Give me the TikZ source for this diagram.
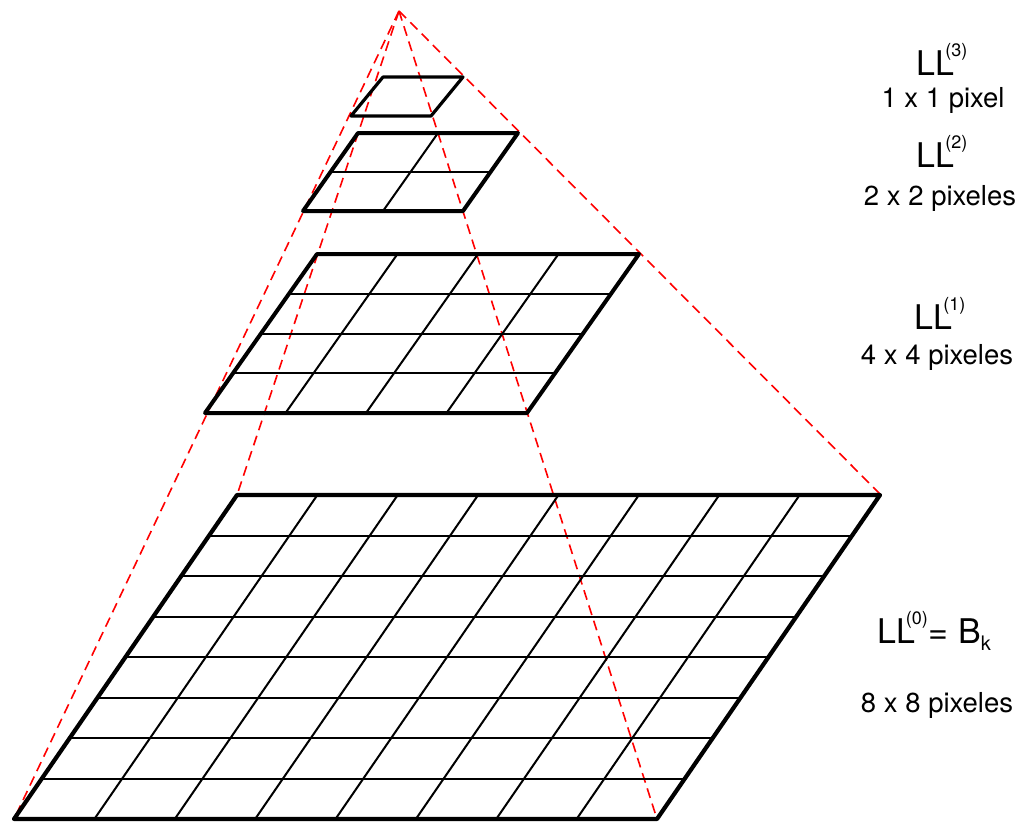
\documentclass[tikz,border=0pt]{standalone}
\usepackage{fontspec}
\setmainfont{TeX Gyre Heros}
\usetikzlibrary{calc}
\tikzset{
  gridborder/.style={line width=4pt, line join=round, line cap=round},
  gridinner/.style={line width=2pt},
  reddash/.style={red, line width=1.6pt, dash pattern=on 10pt off 6pt},
  lblbig/.style={inner sep=0pt, anchor=base, font=\fontsize{34}{40}\selectfont},
  lblsmall/.style={inner sep=0pt, anchor=base, font=\fontsize{27.5}{32}\selectfont},
}
\newcommand\LLs[1]{LL\kern-9pt\raisebox{19pt}{\fontsize{18}{18}\selectfont(#1)}}
% #1 name, #2 blx, #3 bly, #4 width, #5 tlx, #6 tly, #7 n, #8 border width
\newcommand\drawgrid[8]{%
  \coordinate (#1-bl) at (#2,#3);
  \coordinate (#1-br) at ({#2+#4},#3);
  \coordinate (#1-tl) at (#5,#6);
  \coordinate (#1-tr) at ({#5+#4},#6);
  \ifnum#7>1
    \pgfmathtruncatemacro\lastidx{#7-1}
    \foreach \i in {1,...,\lastidx}{
      \draw[gridinner] ($(#1-bl)!{\i/#7}!(#1-tl)$) -- ($(#1-br)!{\i/#7}!(#1-tr)$);
      \draw[gridinner] ($(#1-bl)!{\i/#7}!(#1-br)$) -- ($(#1-tl)!{\i/#7}!(#1-tr)$);
    }
  \fi
  \draw[gridborder, line width=#8] (#1-bl) -- (#1-br) -- (#1-tr) -- (#1-tl) -- cycle;
}
\begin{document}
\begin{tikzpicture}[x=1pt, y=-1pt]
  \useasboundingbox (0,0) rectangle (1023,823);
  \coordinate (apex) at (399,11);
  \coordinate (c-bl) at (14,819);
  \coordinate (c-br) at (657,819);
  \coordinate (c-tl) at (237,495);
  \coordinate (c-tr) at (881,495);
  % pyramid edges
  \draw[reddash] (apex) -- (c-bl);
  \draw[reddash] (apex) -- (c-tl);
  \draw[reddash] (apex) -- (c-br);
  \draw[reddash] (apex) -- (c-tr);
  % grids
  \drawgrid{g0}{14}{819}{643}{237}{495}{8}{4.2pt}
  \drawgrid{g1}{205}{413}{322}{317}{254}{4}{4pt}
  \drawgrid{g2}{303}{211}{160}{358}{133}{2}{4pt}
  \drawgrid{g3}{351}{116}{80}{383}{77}{1}{3.2pt}
  % labels
  \node[lblbig] (t3) at (942,75) {\LLs{3}};
  \node[lblsmall] (s3) at (943,107) {1 x 1 pixel};
  \node[lblbig] (t2) at (942,167) {\LLs{2}};
  \node[lblsmall] (s2) at (940,205) {2 x 2 pixeles};
  \node[lblbig] (t1) at (940,329) {\LLs{1}};
  \node[lblsmall] (s1) at (937,364) {4 x 4 pixeles};
  \node[lblbig] (t0) at (934,643) {\LLs{0}\kern1pt= B\raisebox{-7pt}{\fontsize{20}{20}\selectfont k}};
  \node[lblsmall] (s0) at (937,712) {8 x 8 pixeles};
\end{tikzpicture}
\end{document}
